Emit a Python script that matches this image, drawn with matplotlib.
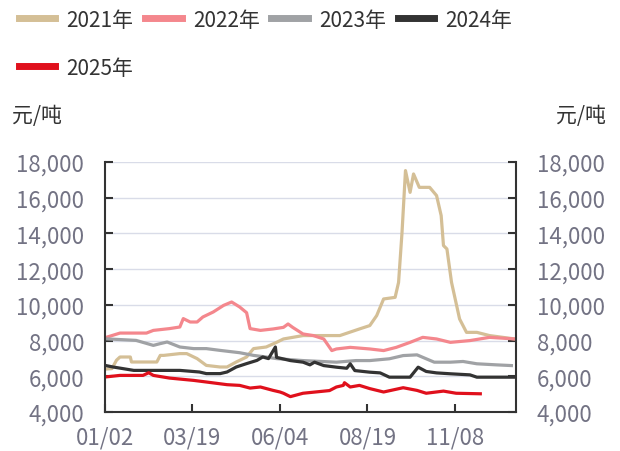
import matplotlib.pyplot as plt

plt.rcParams['font.family'] = ['Noto Sans CJK SC', 'DejaVu Sans']

# x is the trading-day index within the year, values in 元/吨
x_2021 = [0, 6, 10, 13, 22, 23, 45, 48, 51, 65, 71, 80, 88, 100, 106, 114, 123, 129, 140, 149,
          155, 172, 204, 221, 230, 236, 242, 252, 255, 258, 261, 265, 268, 273, 282, 288, 292,
          294, 297, 301, 308, 314, 323, 334, 356]
y_2021 = [6400, 6430, 6900, 7080, 7080, 6800, 6800, 7170, 7170, 7270, 7270, 6990, 6610, 6520,
          6520, 6800, 7080, 7550, 7640, 7900, 8090, 8280, 8280, 8650, 8840, 9400, 10330, 10420,
          11260, 14060, 17520, 16300, 17330, 16580, 16580, 16120, 15000, 13320, 13130, 11260,
          9210, 8460, 8460, 8280, 8090]

x_2022 = [0, 13, 36, 42, 56, 65, 68, 74, 80, 85, 94, 103, 110, 117, 123, 126, 135, 146, 155,
          159, 163, 172, 181, 190, 197, 201, 213, 230, 242, 253, 265, 276, 288, 300, 317, 334, 356]
y_2022 = [8160, 8420, 8420, 8570, 8670, 8760, 9230, 9040, 9040, 9320, 9600, 9970, 10160, 9880,
          9560, 8670, 8570, 8650, 8740, 8930, 8740, 8370, 8280, 8090, 7440, 7530, 7620, 7530,
          7440, 7620, 7900, 8180, 8090, 7900, 8000, 8180, 8090]

x_2023 = [0, 27, 42, 48, 54, 65, 77, 88, 100, 117, 129, 140, 149, 172, 201, 218, 230, 247, 259,
          271, 279, 286, 300, 311, 323, 340, 353]
y_2023 = [8100, 8010, 7730, 7830, 7920, 7640, 7550, 7550, 7450, 7320, 7170, 7080, 6990, 6880,
          6790, 6880, 6880, 6980, 7160, 7200, 6980, 6790, 6790, 6830, 6700, 6640, 6600]

x_2024 = [0, 7, 25, 65, 82, 88, 100, 106, 114, 123, 132, 137, 142, 148, 149, 161, 172, 178, 182,
          190, 201, 210, 213, 217, 230, 239, 247, 265, 272, 279, 288, 300, 317, 323, 356]
y_2024 = [6610, 6520, 6330, 6330, 6240, 6150, 6150, 6240, 6520, 6710, 6890, 7080, 6990, 7640,
          7060, 6880, 6790, 6640, 6790, 6600, 6510, 6450, 6700, 6320, 6230, 6190, 5950, 5950,
          6510, 6270, 6190, 6140, 6080, 5950, 5950]

x_2025 = [0, 13, 33, 38, 42, 56, 77, 88, 106, 117, 126, 135, 146, 152, 155, 161, 172, 195, 201,
          207, 208, 213, 221, 230, 242, 259, 271, 279, 294, 305, 326]
y_2025 = [5960, 6050, 6050, 6200, 6050, 5900, 5770, 5680, 5530, 5490, 5340, 5400, 5210, 5120,
          5050, 4860, 5050, 5200, 5400, 5490, 5640, 5400, 5490, 5310, 5120, 5360, 5210, 5050,
          5170, 5050, 5020]

tick_pos = [0, 76, 152, 228, 304]
tick_labels = ['01/02', '03/19', '06/04', '08/19', '11/08']
y_ticks = [4000, 6000, 8000, 10000, 12000, 14000, 16000, 18000]

fig = plt.figure(figsize=(6.2, 4.52), dpi=100)
ax = fig.add_axes([105 / 620, 1 - 413 / 452, 411 / 620, 250 / 452])

lw = 2.3
l21, = ax.plot(x_2021, y_2021, color='#D4BF96', lw=lw, label='2021年')
l22, = ax.plot(x_2022, y_2022, color='#F4878D', lw=lw, label='2022年')
l23, = ax.plot(x_2023, y_2023, color='#A0A2A5', lw=lw, label='2023年')
l24, = ax.plot(x_2024, y_2024, color='#333333', lw=lw, label='2024年')
l25, = ax.plot(x_2025, y_2025, color='#E0101C', lw=lw, label='2025年')

ax.set_xlim(0, 357)
ax.set_ylim(4000, 18000)
ax.set_xticks(tick_pos)
ax.set_xticklabels(tick_labels)
ax.set_yticks(y_ticks)
ax.set_yticklabels([f'{v:,}' for v in y_ticks])
ax.yaxis.grid(True, color='#D9DCE8', lw=1.0)
ax.set_axisbelow(True)

for side in ['left', 'right', 'bottom']:
    ax.spines[side].set_color('#333333')
    ax.spines[side].set_linewidth(1.5)
ax.spines['top'].set_visible(False)

ax.tick_params(axis='both', direction='in', length=6, width=1.5, color='#333333',
               labelsize=16, labelcolor='#737384')
ax.tick_params(axis='y', right=True, labelright=True, pad=15)
ax.tick_params(axis='x', pad=10)

fig.text(12 / 620, 1 - 116 / 452, '元/吨', fontsize=15, color='#333333', va='center', ha='left')
fig.text(606 / 620, 1 - 116 / 452, '元/吨', fontsize=15, color='#333333', va='center', ha='right')

# order chosen so the column-first fill gives 4 items on row one and 2025 below
leg = fig.legend([l21, l25, l22, l23, l24], ['2021年', '2025年', '2022年', '2023年', '2024年'],
                 ncol=4, loc='upper left', bbox_to_anchor=(0.0, 1.02), frameon=False,
                 fontsize=15, handlelength=1.75, handletextpad=0.55, columnspacing=0.55,
                 labelspacing=1.25)
for h in leg.legend_handles:
    h.set_linewidth(5)
for t in leg.get_texts():
    t.set_color('#333333')

fig.savefig('out.png', dpi=100)
